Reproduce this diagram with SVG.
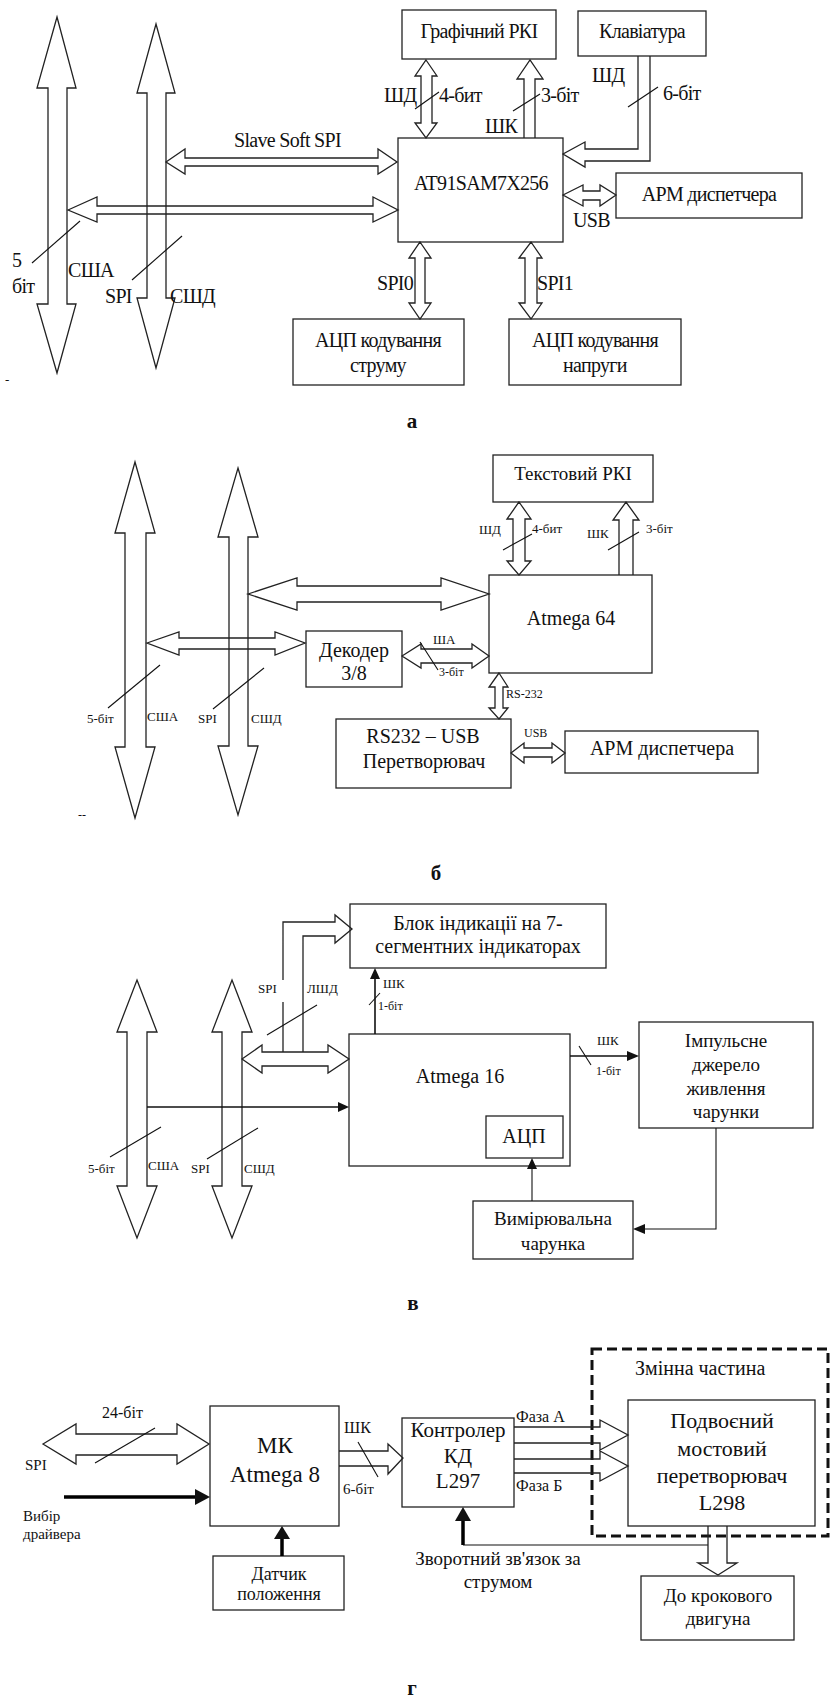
<svg xmlns="http://www.w3.org/2000/svg" width="830" height="1697" viewBox="0 0 830 1697">
<defs>
<style>
.b{fill:#fff;stroke:#222;stroke-width:1.3}
.o{fill:none;stroke:#222;stroke-width:1.3}
.l{fill:none;stroke:#111;stroke-width:1.1}
.k{fill:none;stroke:#111;stroke-width:1.6}
.bk{fill:none;stroke:#000;stroke-width:3.5}
.h{fill:#111;stroke:none}
text{font-family:"Liberation Serif","Times New Roman",serif;fill:#111}
.a{font-size:20px;letter-spacing:-0.7px}
.m{text-anchor:middle}
.s13{font-size:13px}
.s12{font-size:12px}
.s19{font-size:19px}
.s20{font-size:20px}
.lbl{font-size:21px;font-weight:bold;text-anchor:middle}
.dash{fill:none;stroke:#111;stroke-width:3;stroke-dasharray:10 5}
</style>
</defs>

<!-- ===== a ===== -->
<g id="a-nodes">
<g id="a-lcd"><rect class="b" x="402" y="10" width="154" height="49"/><text class="a m" x="479" y="38">Графічний РКІ</text></g>
<g id="a-kbd"><rect class="b" x="578" y="11" width="128" height="45"/><text class="a m" x="642" y="38">Клавіатура</text></g>
<g id="a-mcu"><rect class="b" x="398" y="138" width="165" height="104"/><text class="a m" x="481" y="190">AT91SAM7X256</text></g>
<g id="a-arm"><rect class="b" x="616" y="173" width="186" height="45"/><text class="a m" x="709" y="201">АРМ диспетчера</text></g>
<g id="a-adc1"><rect class="b" x="293" y="319" width="171" height="66"/><text class="a m" x="378" y="347">АЦП кодування</text><text class="a m" x="378" y="372">струму</text></g>
<g id="a-adc2"><rect class="b" x="509" y="319" width="172" height="66"/><text class="a m" x="595" y="347">АЦП кодування</text><text class="a m" x="595" y="372">напруги</text></g>
</g>
<g id="a-connectors">
<polygon class="o" points="57,17 76,88 67,88 67,304 76,304 57,373 37,304 48,304 48,88 37,88"/>
<polygon class="o" points="156,24 175,93 166,93 166,298 175,298 156,368 137,298 147,298 147,93 137,93"/>
<polygon class="o" points="166,162 185,149 185,158 378,158 378,149 397,162 378,174 378,166 185,166 185,174"/>
<polygon class="o" points="68,210 97,197 97,206 373,206 373,197 398,210 373,222 373,214 97,214 97,222"/>
<polygon class="o" points="426,60 437,76 432,76 432,123 437,123 426,138 415,123 421,123 421,76 415,76"/>
<polyline class="o" points="524,138 524,79 517,79 530,60 543,79 535,79 535,138"/>
<polyline class="o" points="638,56 638,149 585,149 585,142 563,154 585,167 585,161 650,161 650,56"/>
<polygon class="o" points="563,195 583,185 583,191 600,191 600,185 616,195 600,206 600,200 583,200 583,206"/>
<polygon class="o" points="420,242 431,258 425,258 425,303 431,303 420,319 409,303 415,303 415,258 409,258"/>
<polygon class="o" points="531,242 542,258 537,258 537,303 542,303 531,319 519,303 525,303 525,258 519,258"/>
<line class="l" x1="32" y1="263" x2="80" y2="221"/>
<line class="l" x1="132" y1="280" x2="182" y2="236"/>
<line class="l" x1="415" y1="109" x2="439" y2="92"/>
<line class="l" x1="513" y1="111" x2="540" y2="94"/>
<line class="l" x1="628" y1="107" x2="658" y2="87"/>
<text class="a" x="234" y="147">Slave Soft SPI</text>
<text class="a" x="12" y="267">5</text>
<text class="a" x="12" y="293">біт</text>
<text class="a" x="68" y="277">СШA</text>
<text class="a" x="105" y="303">SPI</text>
<text class="a" x="170" y="303">СШД</text>
<text class="a" x="384" y="102">ШД</text>
<text class="a" x="439" y="102">4-бит</text>
<text class="a" x="541" y="102">3-біт</text>
<text class="a" x="485" y="133">ШК</text>
<text class="a" x="592" y="82">ШД</text>
<text class="a" x="663" y="100">6-біт</text>
<text class="a" x="573" y="227">USB</text>
<text class="a" x="377" y="290">SPI0</text>
<text class="a" x="537" y="290">SPI1</text>
<text class="s13" x="5" y="384">-</text>
</g>
<text class="lbl" x="412" y="428">а</text>

<!-- ===== б ===== -->
<g id="b-nodes">
<g id="b-lcd"><rect class="b" x="493" y="455" width="160" height="47"/><text class="s19 m" x="573" y="480">Текстовий РКІ</text></g>
<g id="b-mcu"><rect class="b" x="489" y="575" width="163" height="98"/><text class="s20 m" x="571" y="625">Atmega 64</text></g>
<g id="b-dec"><rect class="b" x="306" y="631" width="96" height="56"/><text class="s20 m" x="354" y="657">Декодер</text><text class="s20 m" x="354" y="680">3/8</text></g>
<g id="b-conv"><rect class="b" x="336" y="719" width="175" height="69"/><text class="s20 m" x="423" y="743">RS232 – USB</text><text class="s20 m" x="424" y="768">Перетворювач</text></g>
<g id="b-arm"><rect class="b" x="565" y="731" width="193" height="42"/><text class="s20 m" x="662" y="755">АРМ диспетчера</text></g>
</g>
<g id="b-connectors">
<polygon class="o" points="135,462 155,533 146,533 146,747 155,747 135,818 115,747 125,747 125,533 115,533"/>
<polygon class="o" points="238,468 258,537 248,537 248,746 258,746 238,815 218,746 229,746 229,537 218,537"/>
<polygon class="o" points="248,594 297,578 297,586 441,586 441,578 489,594 441,610 441,602 297,602 297,610"/>
<polygon class="o" points="147,643 179,632 179,638 275,638 275,632 305,643 275,655 275,649 179,649 179,655"/>
<polygon class="o" points="402,656 421,644 421,649 472,649 472,644 489,656 472,668 472,663 421,663 421,668"/>
<polygon class="o" points="519,502 531,519 525,519 525,561 531,561 519,575 507,561 513,561 513,519 507,519"/>
<polyline class="o" points="619,575 619,520 613,520 626,502 639,520 633,520 633,575"/>
<polygon class="o" points="499,673 508,687 503,687 503,708 508,708 499,719 489,708 495,708 495,687 489,687"/>
<polygon class="o" points="511,753 524,743 524,748 552,748 552,743 565,753 552,763 552,757 524,757 524,763"/>
<line class="l" x1="108" y1="708" x2="160" y2="665"/>
<line class="l" x1="213" y1="709" x2="264" y2="668"/>
<line class="l" x1="503" y1="550" x2="532" y2="534"/>
<line class="l" x1="608" y1="550" x2="639" y2="532"/>
<line class="l" x1="420" y1="642" x2="438" y2="670"/>
<text class="s13" x="87" y="723">5-біт</text>
<text class="s13" x="147" y="721">СШA</text>
<text class="s13" x="198" y="723">SPI</text>
<text class="s13" x="251" y="723">СШД</text>
<text class="s13" x="479" y="534">ШД</text>
<text class="s13" x="532" y="533">4-бит</text>
<text class="s13" x="587" y="538">ШК</text>
<text class="s13" x="646" y="533">3-біт</text>
<text class="s13" x="433" y="644">ША</text>
<text class="s12" x="439" y="676">3-біт</text>
<text class="s12" x="506" y="698">RS-232</text>
<text class="s12" x="524" y="737">USB</text>
<text class="s12" x="78" y="819">--</text>
</g>
<text class="lbl" x="436" y="880">б</text>

<!-- ===== в ===== -->
<g id="c-nodes">
<g id="c-ind"><rect class="b" x="350" y="904" width="256" height="64"/><text class="s20 m" x="478" y="930">Блок індикації на 7-</text><text class="s20 m" x="478" y="953">сегментних індикаторах</text></g>
<g id="c-mcu"><rect class="b" x="349" y="1034" width="221" height="132"/><text class="s20 m" x="460" y="1083">Atmega 16</text></g>
<g id="c-adc"><rect class="b" x="486" y="1116" width="77" height="42"/><text class="s20 m" x="524" y="1143">АЦП</text></g>
<g id="c-psu"><rect class="b" x="639" y="1022" width="174" height="106"/><text class="s19 m" x="726" y="1047">Імпульсне</text><text class="s19 m" x="726" y="1071">джерело</text><text class="s19 m" x="726" y="1095">живлення</text><text class="s19 m" x="726" y="1118">чарунки</text></g>
<g id="c-cell"><rect class="b" x="473" y="1201" width="160" height="58"/><text class="s19 m" x="553" y="1225">Вимірювальна</text><text class="s19 m" x="553" y="1250">чарунка</text></g>
</g>
<g id="c-connectors">
<polygon class="o" points="137,980 157,1032 147,1032 147,1186 157,1186 137,1238 117,1186 127,1186 127,1032 117,1032"/>
<polygon class="o" points="232,980 252,1032 242,1032 242,1186 252,1186 232,1238 212,1186 222,1186 222,1032 212,1032"/>
<polygon class="o" points="242,1059 262,1045 262,1052 328,1052 328,1045 349,1059 328,1073 328,1066 262,1066 262,1073"/>
<path class="o" d="M283,1052 V1002 M283,980 V922 H335 V915 L352,929 L335,943 V936 H303 V1052"/>
<line class="k" x1="375" y1="1034" x2="375" y2="976"/>
<polygon class="h" points="375,968 380,979 370,979"/>
<line class="k" x1="147" y1="1107" x2="340" y2="1107"/>
<polygon class="h" points="349,1107 338,1102 338,1112"/>
<line class="k" x1="570" y1="1056" x2="628" y2="1056"/>
<polygon class="h" points="639,1056 627,1051 627,1061"/>
<line class="l" x1="532" y1="1201" x2="532" y2="1168"/>
<polygon class="h" points="532,1158 537,1169 527,1169"/>
<polyline class="l" points="716,1128 716,1229 644,1229"/>
<polygon class="h" points="633,1229 645,1224 645,1234"/>
<line class="l" x1="110" y1="1157" x2="161" y2="1127"/>
<line class="l" x1="207" y1="1159" x2="258" y2="1128"/>
<line class="l" x1="267" y1="1035" x2="317" y2="1005"/>
<line class="l" x1="369" y1="1005" x2="380" y2="993"/>
<line class="l" x1="579" y1="1046" x2="591" y2="1065"/>
<text class="s13" x="88" y="1173">5-біт</text>
<text class="s13" x="148" y="1170">СШA</text>
<text class="s13" x="191" y="1173">SPI</text>
<text class="s13" x="244" y="1173">СШД</text>
<text class="s13" x="258" y="993">SPI</text>
<text class="s13" x="307" y="993">ЛШД</text>
<text class="s13" x="383" y="988">ШК</text>
<text class="s12" x="378" y="1010">1-біт</text>
<text class="s13" x="597" y="1045">ШК</text>
<text class="s12" x="596" y="1075">1-біт</text>
</g>
<text class="lbl" x="413" y="1310">в</text>

<!-- ===== г ===== -->
<g id="d-nodes">
<g id="d-mcu"><rect class="b" x="210" y="1406" width="129" height="120"/><text class="m" style="font-size:23px" x="275" y="1453">МК</text><text class="m" style="font-size:23px" x="275" y="1482">Atmega 8</text></g>
<g id="d-sensor"><rect class="b" x="213" y="1556" width="131" height="54"/><text class="m" style="font-size:18px" x="279" y="1580">Датчик</text><text class="m" style="font-size:18px" x="279" y="1600">положення</text></g>
<g id="d-ctrl"><rect class="b" x="402" y="1418" width="112" height="89"/><text class="m" style="font-size:21px" x="458" y="1437">Контролер</text><text class="m" style="font-size:21px" x="458" y="1463">КД</text><text class="m" style="font-size:21px" x="458" y="1488">L297</text></g>
<g id="d-group"><rect class="dash" x="592" y="1349" width="236" height="187"/><text style="font-size:20px" x="635" y="1375">Змінна частина</text></g>
<g id="d-bridge"><rect class="b" x="628" y="1400" width="187" height="126"/><text class="m" style="font-size:22px" x="722" y="1428">Подвоєний</text><text class="m" style="font-size:22px" x="722" y="1456">мостовий</text><text class="m" style="font-size:22px" x="722" y="1483">перетворювач</text><text class="m" style="font-size:22px" x="722" y="1510">L298</text></g>
<g id="d-motor"><rect class="b" x="641" y="1576" width="153" height="64"/><text class="m" style="font-size:19px" x="718" y="1602">До крокового</text><text class="m" style="font-size:19px" x="718" y="1625">двигуна</text></g>
</g>
<g id="d-connectors">
<polygon class="o" points="43,1444 76,1424 76,1434 177,1434 177,1424 209,1444 177,1464 177,1455 76,1455 76,1464"/>
<line class="bk" x1="64" y1="1497" x2="197" y2="1497"/>
<polygon class="h" points="210,1497 195,1489 195,1505"/>
<line class="bk" x1="282" y1="1556" x2="282" y2="1536"/>
<polygon class="h" points="282,1526 274,1539 290,1539"/>
<polyline class="o" points="339,1451 388,1451 388,1444 403,1458 388,1474 388,1466 339,1466"/>
<polyline class="o" points="514,1427 600,1427 600,1420 628,1435 600,1450 600,1443 514,1443"/>
<polyline class="o" points="514,1459 600,1459 600,1451 628,1466 600,1481 600,1473 514,1473"/>
<polyline class="l" points="708,1545 463,1545"/>
<line class="bk" x1="463" y1="1545" x2="463" y2="1519"/>
<polygon class="h" points="463,1507 455,1521 471,1521"/>
<polyline class="o" points="708,1526 708,1563 698,1563 718,1575 737,1563 727,1563 727,1526"/>
<line class="l" x1="95" y1="1463" x2="155" y2="1428"/>
<line class="l" x1="358" y1="1442" x2="378" y2="1477"/>
<text style="font-size:16px" x="102" y="1418">24-біт</text>
<text style="font-size:15px" x="25" y="1470">SPI</text>
<text style="font-size:15px" x="23" y="1521">Вибір</text>
<text style="font-size:15px" x="23" y="1539">драйвера</text>
<text style="font-size:16px" x="344" y="1433">ШК</text>
<text style="font-size:15px" x="343" y="1494">6-біт</text>
<text style="font-size:16px" x="516" y="1422">Фаза А</text>
<text style="font-size:16px" x="516" y="1491">Фаза Б</text>
<text class="m" style="font-size:19px" x="498" y="1565">Зворотний зв'язок за</text>
<text class="m" style="font-size:19px" x="498" y="1588">струмом</text>
</g>
<text class="lbl" x="412" y="1695">г</text>
</svg>
